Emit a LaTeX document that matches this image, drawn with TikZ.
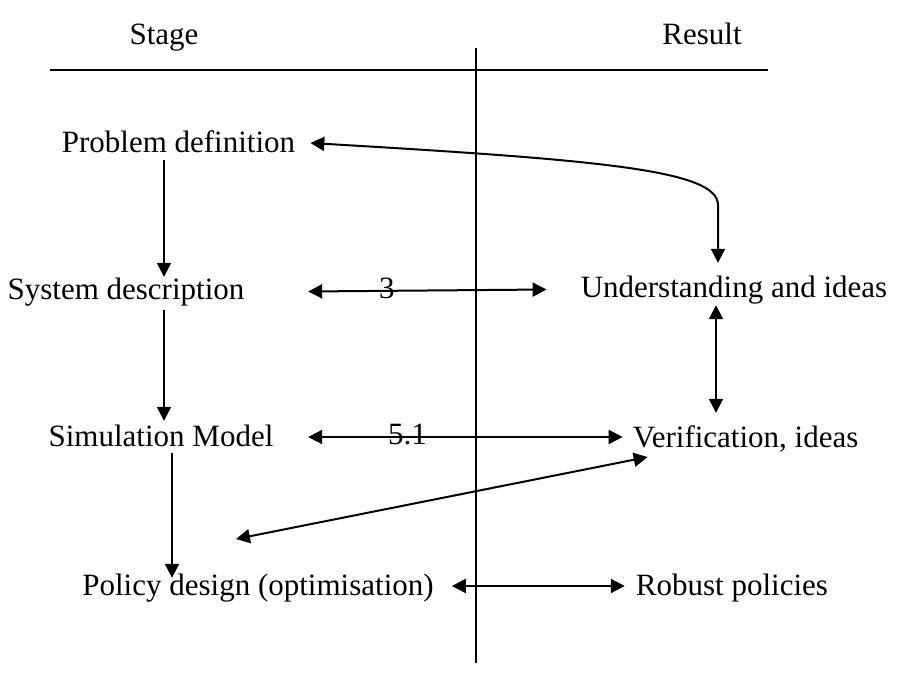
\documentclass[tikz,border=0pt]{standalone}
\usepackage{fontspec}
\setmainfont{Liberation Serif}
\usetikzlibrary{arrows.meta}
\begin{document}
\begin{tikzpicture}[x=1pt,y=-1pt,
  lbl/.style={inner sep=0pt,text height=22pt,text depth=7pt,font=\fontsize{31}{36}\selectfont},
  tip/.style={Triangle[length=14pt,width=14pt]},
  link/.style={line width=2pt,-{Triangle[length=14pt,width=14pt]}},
  both/.style={line width=2pt,{Triangle[length=14pt,width=14pt]}-{Triangle[length=14pt,width=14pt]}},
  rule/.style={line width=1.6pt}]
\useasboundingbox (0,0) rectangle (902,693);

% column headings and dividers
\node[lbl,anchor=base] (stage)  at (164,45) {Stage};
\node[lbl,anchor=base] (result) at (702,45) {Result};
\coordinate (hl) at (50,70);
\coordinate (hr) at (768,70);
\coordinate (vt) at (476,48);
\coordinate (vb) at (476,663);
\draw[rule] (hl) -- (hr);
\draw[rule] (vt) -- (vb);

% stages
\node[lbl,anchor=base] (prob) at (178.5,152) {Problem definition};
\node[lbl,anchor=base] (sys)  at (126,299) {System description};
\node[lbl,anchor=base] (sim)  at (161,446) {Simulation Model};
\node[lbl,anchor=base] (pol)  at (258,595) {Policy design (optimisation)};

% results
\node[lbl,anchor=base] (und) at (734,297) {Understanding and ideas};
\node[lbl,anchor=base] (ver) at (745.6,447) {Verification, ideas};
\node[lbl,anchor=base] (rob) at (732,595) {Robust policies};

% stage flow
\coordinate (c1) at (164,0);
\coordinate (c2) at (172,0);
\draw[link] ([yshift=-1]prob.south -| c1) -- (sys.north -| c1);
\draw[link] ([yshift=-4]sys.south -| c1) -- ([yshift=3]sim.north -| c1);
\draw[link] (sim.south -| c2) -- ([yshift=-5]pol.north -| c2);

% feedback loop between understanding and problem definition
\coordinate (bend) at (718,0);
\draw[both] ([xshift=15,yshift=1.5]prob.east)
  .. controls (600,160) and (718,170) .. (718,205)
  -- ([yshift=12]und.north -| bend);

% stage/result links
\draw[both] ([xshift=63.6]sys.east) -- node[lbl,pos=0.33]{3} ([xshift=-34]und.west);
\draw[both] ([xshift=34.6,yshift=1.5]sim.east) -- node[lbl,pos=0.316]{5.1} ([xshift=-10,yshift=2.5]ver.west);
\coordinate (mid) at (716,0);
\draw[both] ([yshift=-1]und.south -| mid) -- ([yshift=12]ver.north -| mid);
\draw[both] ([xshift=18,yshift=1.5]pol.east) -- ([xshift=-11,yshift=1.5]rob.west);
\coordinate (pd) at (236,539);
\draw[both] (pd) -- ([xshift=15,yshift=-17.5]ver.west);
\end{tikzpicture}
\end{document}
